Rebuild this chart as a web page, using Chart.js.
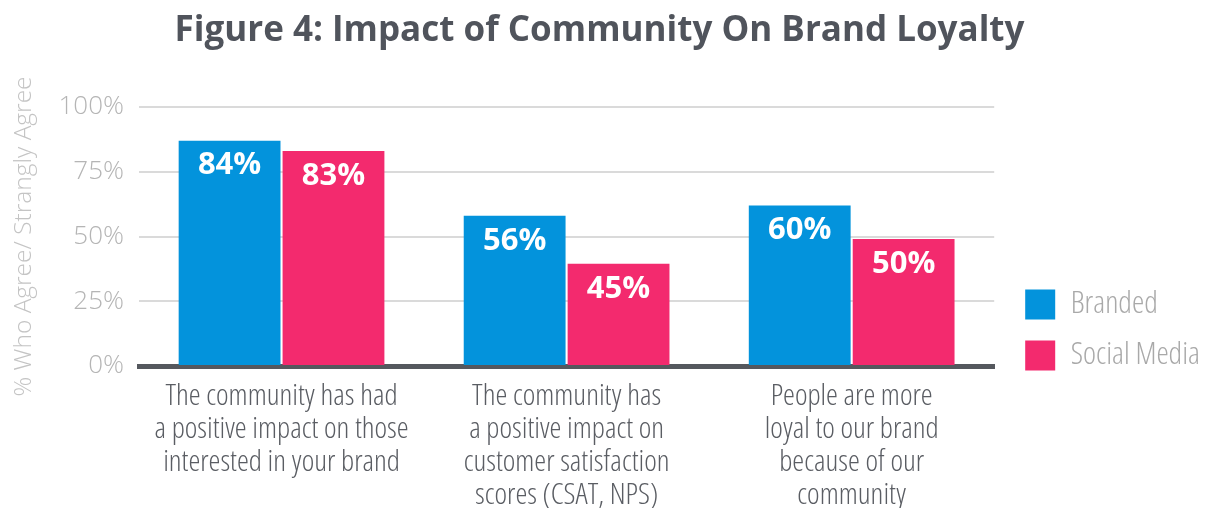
<!DOCTYPE html>
<html>
<head>
<meta charset="utf-8">
<script src="https://cdn.jsdelivr.net/npm/chart.js@4.4.1/dist/chart.umd.min.js"></script>
<style>
  html, body { margin: 0; padding: 0; background: #ffffff; }
  #wrap { width: 1208px; height: 508px; position: relative; }
</style>
</head>
<body>
<div id="wrap"><canvas id="loyaltyChart"></canvas></div>
<script>
const categories = [
  ["The community has had", "a positive impact on those", "interested in your brand"],
  ["The community has", "a positive impact on", "customer satisfaction", "scores (CSAT, NPS)"],
  ["People are more", "loyal to our brand", "because of our", "community"],
];
const seriesNames = ["Branded", "Social Media"];
// bar heights as drawn in the picture
const brandedValues = [87, 58, 62];
const socialValues = [83, 39.5, 49];
// printed labels on the bars
const brandedLabels = ["84%", "56%", "60%"];
const socialLabels = ["83%", "45%", "50%"];
const yTicks = [0, 25, 50, 75, 100];

const sans = "'Open Sans', sans-serif";

const barLabels = {
  id: "barLabels",
  afterLayout(chart) {
    // nudge the legend to the foot of the plot and a bit away from it
    chart.legend.top += 25;
    chart.legend.bottom += 25;
    chart.legend.left += 11;
    chart.legend.right += 11;
  },
  afterDatasetsDraw(chart) {
    const ctx = chart.ctx;
    const texts = [brandedLabels, socialLabels];
    ctx.save();
    ctx.fillStyle = "#ffffff";
    ctx.font = "bold 31px 'Open Sans', sans-serif";
    ctx.textAlign = "center";
    ctx.textBaseline = "middle";
    chart.data.datasets.forEach((ds, i) => {
      chart.getDatasetMeta(i).data.forEach((bar, j) => {
        ctx.fillText(texts[i][j], bar.x, bar.y + 25);
      });
    });
    ctx.restore();
  },
};

new Chart(document.getElementById("loyaltyChart"), {
  type: "bar",
  data: {
    labels: categories,
    datasets: [
      {
        label: seriesNames[0],
        data: brandedValues,
        backgroundColor: "#0393dc",
        categoryPercentage: 0.729,
        barPercentage: 0.98,
      },
      {
        label: seriesNames[1],
        data: socialValues,
        backgroundColor: "#f32a6e",
        categoryPercentage: 0.729,
        barPercentage: 0.98,
      },
    ],
  },
  options: {
    responsive: true,
    maintainAspectRatio: false,
    animation: false,
    layout: { padding: { left: 0, right: 9, top: 0, bottom: 0 } },
    plugins: {
      title: {
        display: true,
        text: "Figure 4: Impact of Community On Brand Loyalty",
        color: "#50545c",
        font: { family: sans, size: 35, weight: "bold" },
        padding: { top: 10, bottom: 55 },
      },
      legend: {
        position: "right",
        align: "end",
        fullSize: false,
        labels: {
          boxWidth: 30,
          boxHeight: 30,
          padding: 20,
          color: "#a9a9a9",
          font: { family: sans, size: 31, weight: "300 condensed" },
        },
      },
      tooltip: { enabled: false },
    },
    scales: {
      x: {
        grid: { display: false },
        border: { color: "#55585e", width: 5 },
        ticks: {
          color: "#5a5d63",
          padding: 6,
          maxRotation: 0,
          autoSkip: false,
          font: { family: sans, size: 30, weight: "300 condensed", lineHeight: 1.1 },
        },
        afterFit(scale) { scale.height = 142; },
      },
      y: {
        min: 0,
        max: 100,
        afterBuildTicks(scale) { scale.ticks = yTicks.map((v) => ({ value: v })); },
        grid: { color: "#dadada", lineWidth: 2, drawTicks: false },
        border: { display: false },
        ticks: {
          color: "#b5b5b5",
          padding: 15,
          font: { family: sans, size: 26, weight: "300" },
          callback: (v) => v + "%",
        },
        title: {
          display: true,
          text: "% Who Agree/ Strangly Agree",
          color: "#c4c4c4",
          padding: { top: 9, bottom: 0 },
          font: { family: sans, size: 24.5, weight: "300" },
        },
        afterFit(scale) { scale.width = 139; },
      },
    },
  },
  plugins: [barLabels],
});
</script>
</body>
</html>
